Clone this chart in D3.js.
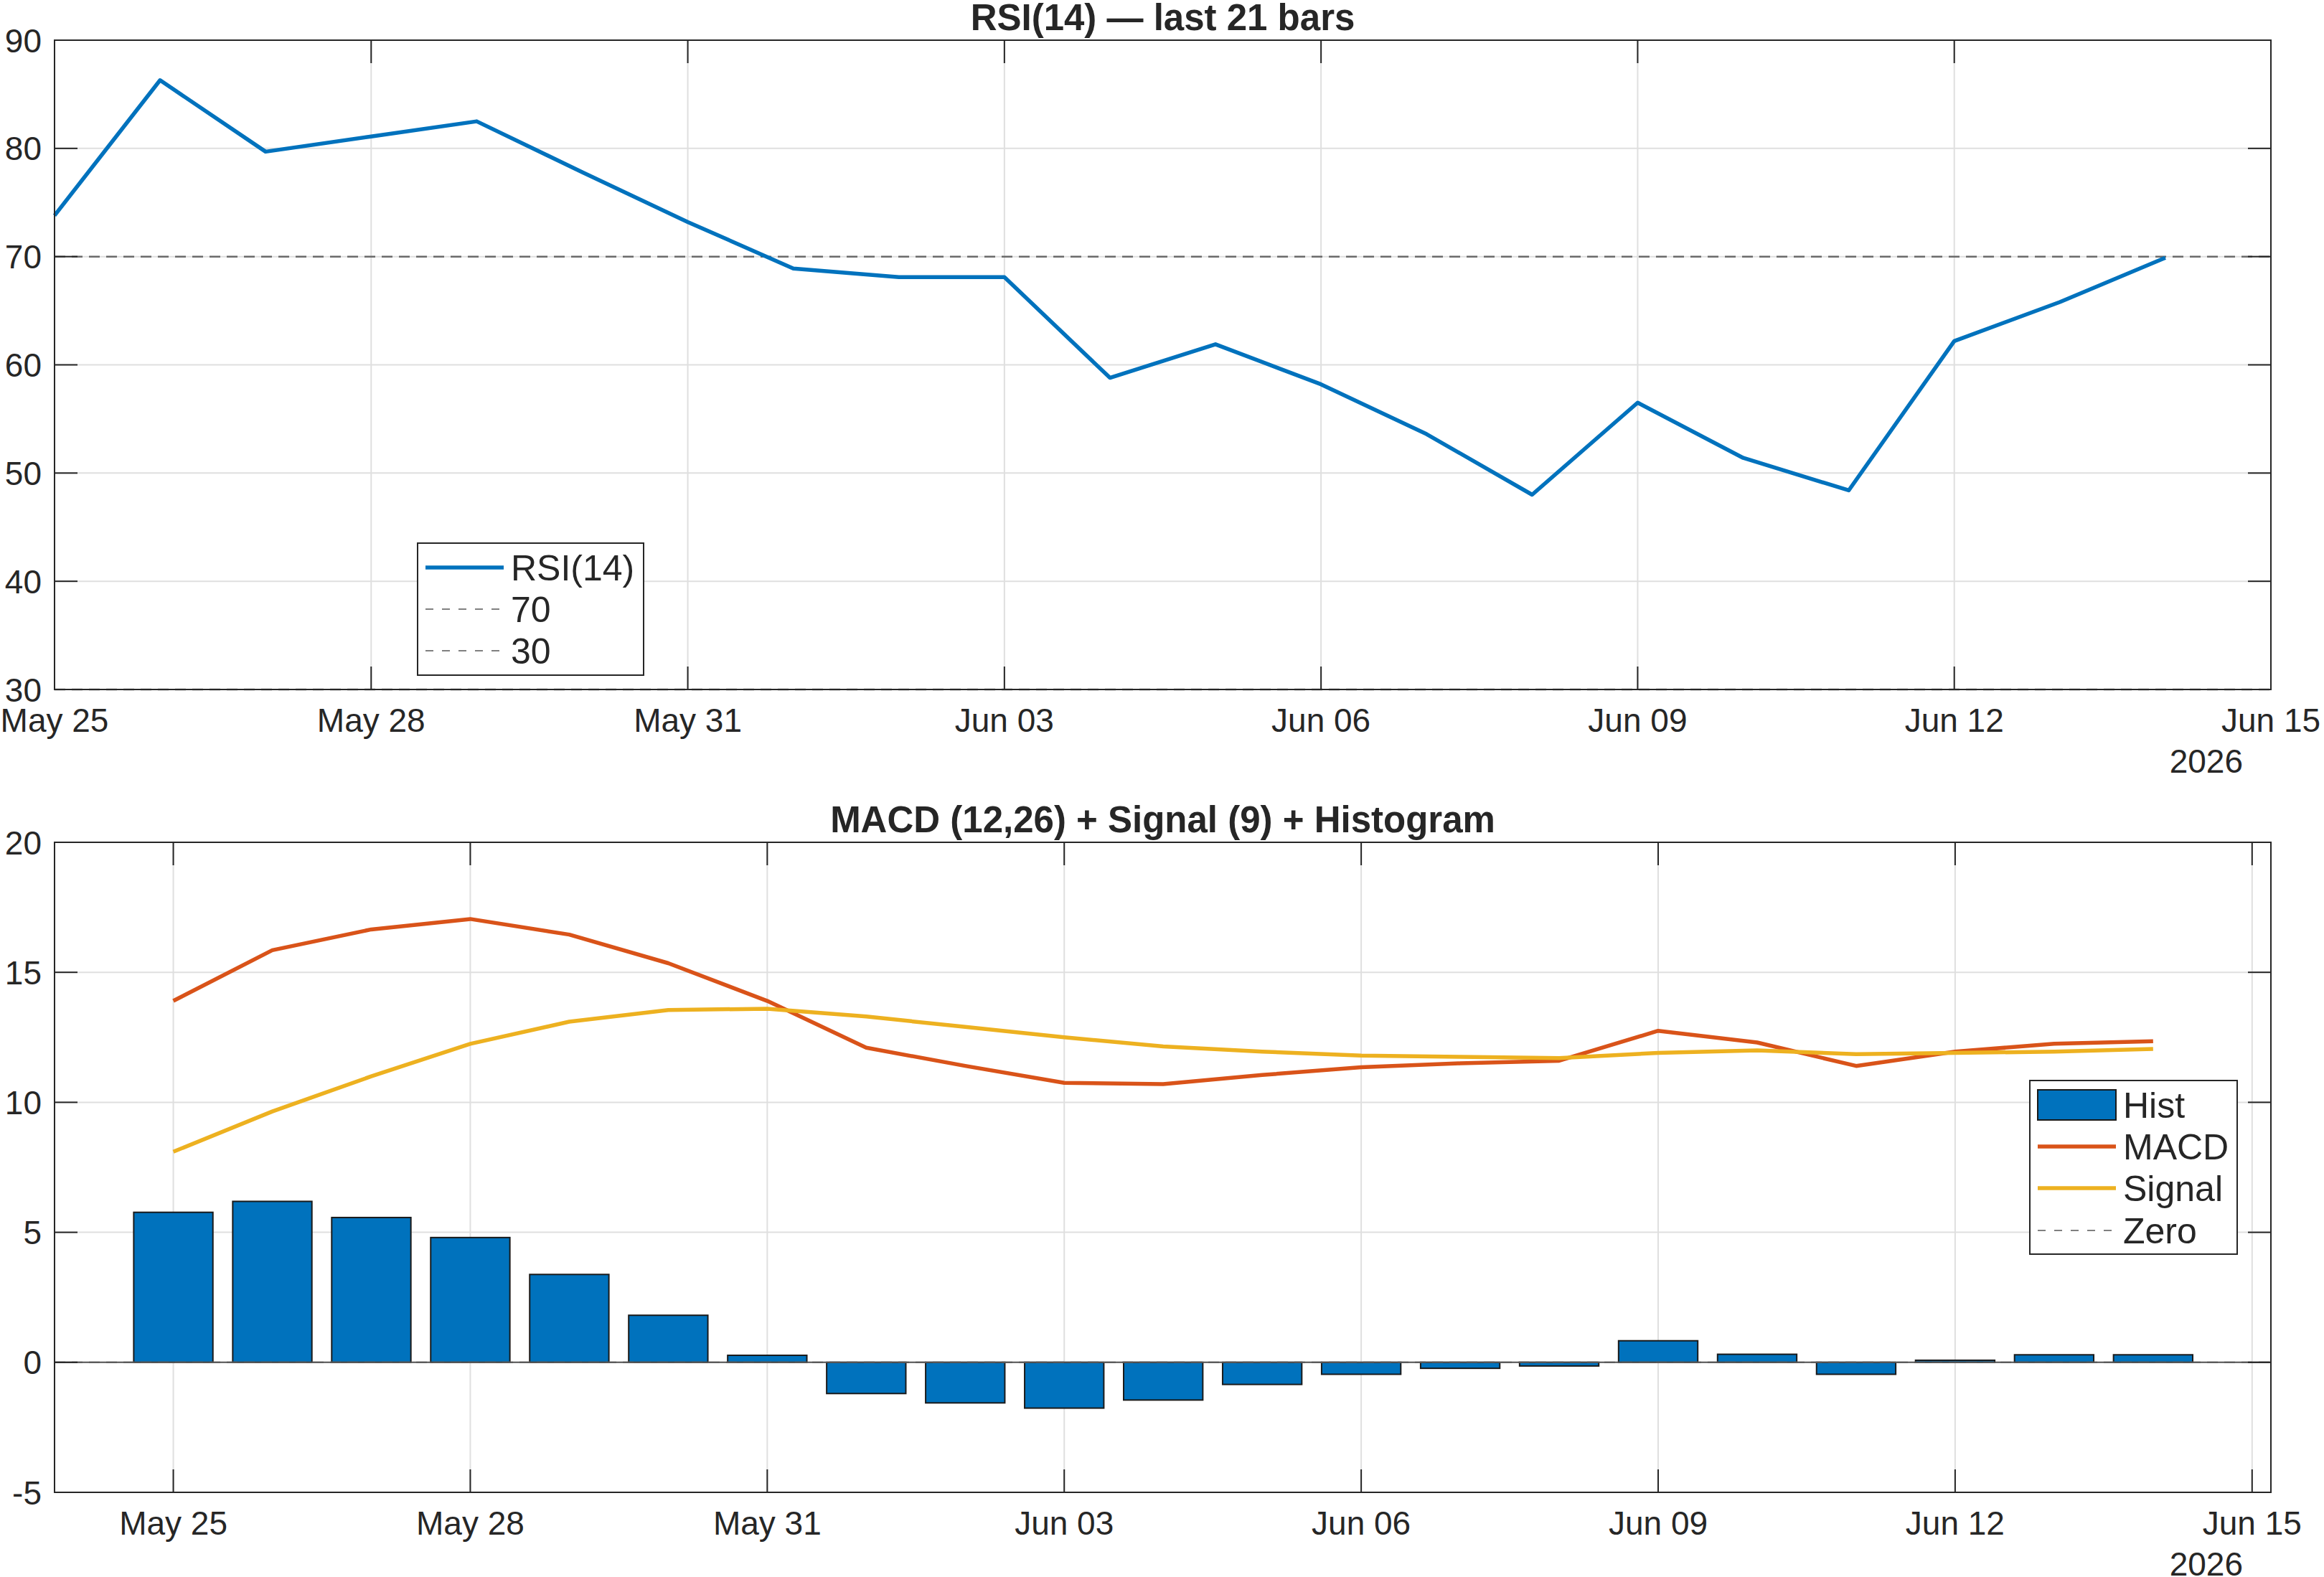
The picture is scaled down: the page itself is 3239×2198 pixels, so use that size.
<!DOCTYPE html>
<html>
<head>
<meta charset="utf-8">
<script src="https://cdn.jsdelivr.net/npm/d3@7"></script>
<style>
  html, body { margin: 0; padding: 0; background: #fff; }
  svg { display: block; }
  text { font-family: "Liberation Sans", Arial, Helvetica, sans-serif; fill: #262626; }
</style>
</head>
<body>
<div id="chart"></div>
<script>
const W = 3239, H = 2198;

// bar dates (daily, 21 bars)
const dates = ["2026-05-25", "2026-05-26", "2026-05-27", "2026-05-28", "2026-05-29", "2026-05-30", "2026-05-31",
    "2026-06-01", "2026-06-02", "2026-06-03", "2026-06-04", "2026-06-05", "2026-06-06", "2026-06-07",
    "2026-06-08", "2026-06-09", "2026-06-10", "2026-06-11", "2026-06-12", "2026-06-13", "2026-06-14"];
const rsi = [73.8, 86.3, 79.7, 81.1, 82.5, 77.8, 73.2, 68.9, 68.1, 68.1, 58.8, 61.9, 58.2, 53.6,
    48.0, 56.5, 51.4, 48.4, 62.2, 65.8, 69.9];
const macd = [13.9, 15.85, 16.65, 17.05, 16.45, 15.35, 13.9, 12.1, 11.4, 10.75, 10.7, 11.05, 11.35, 11.5,
    11.6, 12.75, 12.3, 11.4, 11.95, 12.25, 12.35];
const signal = [8.1, 9.65, 11.0, 12.25, 13.1, 13.55, 13.6, 13.3, 12.9, 12.5, 12.15, 11.95, 11.8, 11.75,
    11.7, 11.9, 12.0, 11.85, 11.9, 11.95, 12.05];
const hist = [5.77, 6.19, 5.57, 4.8, 3.38, 1.81, 0.27, -1.2, -1.56, -1.76, -1.45, -0.85, -0.46, -0.23,
    -0.14, 0.83, 0.31, -0.46, 0.08, 0.29, 0.29];
const rsiLevels = [70, 30];
const rsiTicks = [30, 40, 50, 60, 70, 80, 90];
const macdTicks = [-5, 0, 5, 10, 15, 20];

const parse = d3.utcParse("%Y-%m-%d");
const days = dates.map(parse);
const DAY = 864e5;
const xStart = parse("2026-05-25"), xEnd = parse("2026-06-15");
const xTicks = d3.utcDay.range(xStart, d3.utcDay.offset(xEnd, 1), 3);
const fmt = d3.utcFormat("%b %d");

const C = { blue: "#0072BD", orange: "#D95319", yellow: "#EDB120", grid: "#dfdfdf", axis: "#262626", ref: "#6b6b6b" };
const LW = 5.5;

const svg = d3.select("#chart").append("svg").attr("width", W).attr("height", H).attr("viewBox", [0, 0, W, H]);

// common axes frame: grid, box, inward ticks on all sides, labels
function frame(x, y, yTicks, title, titleY) {
    const [x0, x1] = x.range(), [y0, y1] = y.range();
    const g = svg.append("g");
    const grid = g.append("g").attr("stroke", C.grid).attr("stroke-width", 2);
    grid.selectAll(".gx").data(xTicks).join("line")
        .attr("x1", d => x(d)).attr("x2", d => x(d)).attr("y1", y0).attr("y2", y1);
    grid.selectAll(".gy").data(yTicks).join("line")
        .attr("x1", x0).attr("x2", x1).attr("y1", d => y(d)).attr("y2", d => y(d));

    const top = svg.append("g");
    const tl = 32;
    const tk = top.append("g").attr("stroke", C.axis).attr("stroke-width", 2);
    xTicks.forEach(d => {
        tk.append("line").attr("x1", x(d)).attr("x2", x(d)).attr("y1", y0).attr("y2", y0 - tl);
        tk.append("line").attr("x1", x(d)).attr("x2", x(d)).attr("y1", y1).attr("y2", y1 + tl);
    });
    yTicks.forEach(d => {
        tk.append("line").attr("x1", x0).attr("x2", x0 + tl).attr("y1", y(d)).attr("y2", y(d));
        tk.append("line").attr("x1", x1).attr("x2", x1 - tl).attr("y1", y(d)).attr("y2", y(d));
    });
    top.append("rect").attr("x", x0).attr("y", y1).attr("width", x1 - x0).attr("height", y0 - y1)
        .attr("fill", "none").attr("stroke", C.axis).attr("stroke-width", 2);

    top.selectAll(".xl").data(xTicks).join("text")
        .attr("x", d => x(d)).attr("y", y0 + 59).attr("text-anchor", "middle")
        .attr("font-size", 46).text(fmt);
    top.append("text").attr("x", 3126).attr("y", y0 + 116).attr("text-anchor", "end")
        .attr("font-size", 46).text("2026");
    top.selectAll(".yl").data(yTicks).join("text")
        .attr("x", x0 - 18).attr("y", d => y(d) + 16.5).attr("text-anchor", "end")
        .attr("font-size", 46).text(d => d < 0 ? "-" + Math.abs(d) : d);
    top.append("text").attr("x", (x0 + x1) / 2).attr("y", titleY).attr("text-anchor", "middle")
        .attr("font-size", 51).attr("font-weight", "bold").text(title);
    return { g, top };
}

function legend(parent, bx, by, bw, bh, items) {
    const lg = parent.append("g");
    lg.append("rect").attr("x", bx).attr("y", by).attr("width", bw).attr("height", bh)
        .attr("fill", "#fff").attr("stroke", C.axis).attr("stroke-width", 2);
    items.forEach(it => {
        const sx = bx + 11, ex = bx + 120;
        if (it.type === "patch") {
            lg.append("rect").attr("x", sx).attr("y", it.y - 21).attr("width", ex - sx).attr("height", 42)
                .attr("fill", it.color).attr("stroke", "#1a1a1a").attr("stroke-width", 2);
        } else {
            lg.append("line").attr("x1", sx).attr("x2", ex).attr("y1", it.y).attr("y2", it.y)
                .attr("stroke", it.color).attr("stroke-width", it.dash ? 2 : LW)
                .attr("stroke-dasharray", it.dash || null);
        }
        lg.append("text").attr("x", bx + 130).attr("y", it.y + 18).attr("font-size", 50).text(it.label);
    });
}

// ---- top panel: RSI ----
const x1s = d3.scaleUtc().domain([xStart, xEnd]).range([76, 3165]);
const y1s = d3.scaleLinear().domain([30, 90]).range([961, 56]);
const p1 = frame(x1s, y1s, rsiTicks, "RSI(14) \u2014 last 21 bars", 42);

p1.g.selectAll(".lvl").data(rsiLevels).join("line")
    .attr("x1", 76).attr("x2", 3165).attr("y1", d => y1s(d)).attr("y2", d => y1s(d))
    .attr("stroke", C.ref).attr("stroke-width", 2.5).attr("stroke-dasharray", "15 9");
p1.g.append("path").datum(rsi)
    .attr("d", d3.line().x((d, i) => x1s(days[i])).y(d => y1s(d)))
    .attr("fill", "none").attr("stroke", C.blue).attr("stroke-width", LW).attr("stroke-linejoin", "round");

legend(p1.top, 582, 757, 315, 184, [
    { label: "RSI(14)", color: C.blue, y: 791 },
    { label: "70", color: "#808080", dash: "11 12", y: 849 },
    { label: "30", color: "#808080", dash: "11 12", y: 907 }
]);

// ---- bottom panel: MACD ----
const x2s = d3.scaleUtc()
    .domain([new Date(+xStart - 1.2 * DAY), new Date(+xEnd + 0.19 * DAY)]).range([76, 3165]);
const y2s = d3.scaleLinear().domain([-5, 20]).range([2080, 1174]);
const p2 = frame(x2s, y2s, macdTicks, "MACD (12,26) + Signal (9) + Histogram", 1160);

const bw = x2s(new Date(+xStart + 0.8 * DAY)) - x2s(xStart);
p2.g.selectAll(".bar").data(hist).join("rect")
    .attr("x", (d, i) => x2s(days[i]) - bw / 2)
    .attr("y", d => y2s(Math.max(0, d)))
    .attr("width", bw)
    .attr("height", d => Math.abs(y2s(d) - y2s(0)))
    .attr("fill", C.blue).attr("stroke", "#1a1a1a").attr("stroke-width", 2);

p2.g.append("line").attr("x1", 76).attr("x2", 3165).attr("y1", y2s(0)).attr("y2", y2s(0))
    .attr("stroke", C.ref).attr("stroke-width", 2).attr("stroke-dasharray", "15 9");
p2.g.append("line").attr("x1", 76).attr("x2", 3165).attr("y1", y2s(0)).attr("y2", y2s(0))
    .attr("stroke", "#555").attr("stroke-width", 2);

const line2 = d3.line().x((d, i) => x2s(days[i])).y(d => y2s(d));
p2.g.append("path").datum(macd).attr("d", line2)
    .attr("fill", "none").attr("stroke", C.orange).attr("stroke-width", LW).attr("stroke-linejoin", "round");
p2.g.append("path").datum(signal).attr("d", line2)
    .attr("fill", "none").attr("stroke", C.yellow).attr("stroke-width", LW).attr("stroke-linejoin", "round");

legend(p2.top, 2829, 1506, 289, 242, [
    { label: "Hist", type: "patch", color: C.blue, y: 1540 },
    { label: "MACD", color: C.orange, y: 1598 },
    { label: "Signal", color: C.yellow, y: 1656 },
    { label: "Zero", color: "#808080", dash: "11 12", y: 1715 }
]);
</script>
</body>
</html>
